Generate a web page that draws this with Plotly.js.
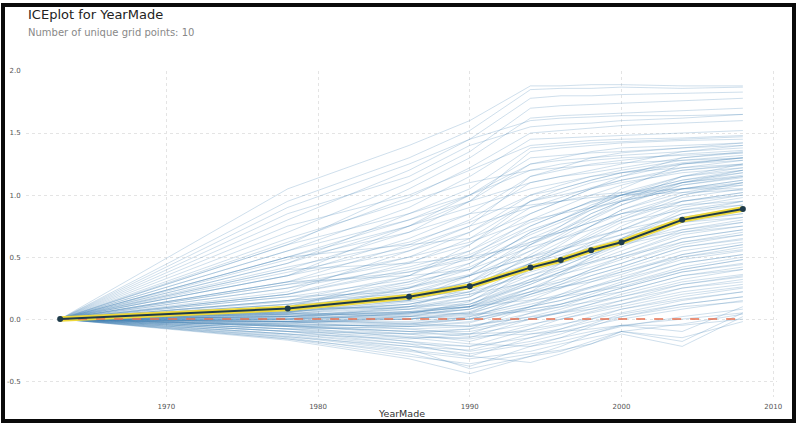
<!DOCTYPE html>
<html>
<head>
<meta charset="utf-8">
<script src="https://cdn.plot.ly/plotly-3.0.1.min.js"></script>
<style>
  html, body { margin:0; padding:0; background:#fff; width:800px; height:424px; overflow:hidden; }
  #chart { position:absolute; left:0; top:0; width:800px; height:424px; }
  #frame { position:absolute; left:1px; top:3px; width:795px; height:420px; border:4px solid #0a0a0a; box-sizing:border-box; pointer-events:none; }
</style>
</head>
<body>
<div id="chart"></div>
<div id="frame"></div>
<script>
// Grid points of YearMade
const gridYears = [1963, 1978, 1986, 1990, 1994, 1996, 1998, 2000, 2004, 2008];

// Average (PDP) curve
const meanEffect = [0.0, 0.085, 0.18, 0.265, 0.415, 0.476, 0.556, 0.62, 0.80, 0.887];

// Individual conditional expectation curves
const iceCurves = [
  [0, 1.05, 1.40, 1.60, 1.88, 1.88, 1.89, 1.89, 1.88, 1.88],
  [0, 0.95, 1.30, 1.52, 1.85, 1.86, 1.86, 1.87, 1.86, 1.87],
  [0, 0.80, 1.20, 1.45, 1.78, 1.80, 1.80, 1.81, 1.82, 1.83],
  [0, 0.70, 1.10, 1.35, 1.70, 1.72, 1.73, 1.74, 1.76, 1.78],
  [0, 0.60, 1.05, 1.30, 1.62, 1.64, 1.65, 1.66, 1.68, 1.70],
  [0, 0.85, 1.15, 1.40, 1.55, 1.57, 1.58, 1.60, 1.62, 1.65],
  [0, 0.55, 0.90, 1.15, 1.45, 1.46, 1.47, 1.48, 1.50, 1.52],
  [0, 0.45, 0.85, 1.05, 1.38, 1.40, 1.42, 1.43, 1.45, 1.47],
  [0, 0.50, 0.80, 1.00, 1.30, 1.32, 1.34, 1.35, 1.38, 1.42],
  [0, 0.40, 0.70, 0.95, 1.25, 1.28, 1.30, 1.32, 1.35, 1.38],
  [0, 0.35, 0.65, 0.85, 1.15, 1.20, 1.25, 1.28, 1.33, 1.36],
  [0, 0.30, 0.60, 0.80, 1.10, 1.15, 1.18, 1.22, 1.30, 1.34],
  [0, 0.65, 0.95, 1.10, 1.20, 1.22, 1.24, 1.26, 1.28, 1.30],
  [0, 0.25, 0.50, 0.70, 1.00, 1.08, 1.15, 1.20, 1.28, 1.32],
  [0, 0.20, 0.45, 0.65, 0.95, 1.02, 1.10, 1.15, 1.25, 1.30],
  [0, 0.15, 0.35, 0.55, 0.85, 0.95, 1.05, 1.12, 1.22, 1.28],
  [0, 0.10, 0.30, 0.50, 0.80, 0.90, 1.00, 1.08, 1.20, 1.25],
  [0, 0.20, 0.40, 0.52, 0.75, 0.85, 0.95, 1.02, 1.15, 1.22],
  [0, 0.08, 0.25, 0.40, 0.70, 0.80, 0.92, 1.00, 1.12, 1.20],
  [0, 0.12, 0.28, 0.42, 0.65, 0.75, 0.88, 0.98, 1.10, 1.18],
  [0, 0.05, 0.18, 0.30, 0.55, 0.68, 0.82, 0.95, 1.08, 1.15],
  [0, 0.30, 0.50, 0.62, 0.80, 0.85, 0.90, 0.95, 1.05, 1.12],
  [0, 0.06, 0.15, 0.25, 0.50, 0.62, 0.75, 0.88, 1.02, 1.10],
  [0, 0.10, 0.22, 0.35, 0.55, 0.65, 0.75, 0.85, 1.00, 1.08],
  [0, 0.04, 0.12, 0.22, 0.45, 0.55, 0.68, 0.80, 0.98, 1.05],
  [0, 0.15, 0.30, 0.40, 0.58, 0.65, 0.72, 0.80, 0.95, 1.02],
  [0, 0.02, 0.10, 0.18, 0.40, 0.50, 0.62, 0.72, 0.92, 1.00],
  [0, 0.08, 0.20, 0.30, 0.48, 0.55, 0.65, 0.72, 0.90, 0.98],
  [0, 0.03, 0.08, 0.15, 0.35, 0.45, 0.55, 0.65, 0.88, 0.95],
  [0, 0.12, 0.25, 0.35, 0.50, 0.56, 0.62, 0.68, 0.85, 0.92],
  [0, 0.00, 0.05, 0.12, 0.32, 0.42, 0.52, 0.62, 0.82, 0.90],
  [0, 0.05, 0.15, 0.25, 0.42, 0.50, 0.58, 0.65, 0.80, 0.88],
  [0, -0.02, 0.02, 0.10, 0.28, 0.38, 0.48, 0.58, 0.78, 0.85],
  [0, 0.06, 0.12, 0.20, 0.38, 0.45, 0.52, 0.60, 0.75, 0.82],
  [0, 0.02, 0.06, 0.12, 0.30, 0.38, 0.46, 0.55, 0.72, 0.80],
  [0, -0.03, 0.00, 0.05, 0.25, 0.35, 0.45, 0.52, 0.70, 0.78],
  [0, 0.04, 0.10, 0.15, 0.32, 0.40, 0.46, 0.52, 0.68, 0.75],
  [0, 0.00, 0.03, 0.08, 0.22, 0.30, 0.40, 0.48, 0.65, 0.72],
  [0, -0.05, -0.05, 0.00, 0.20, 0.28, 0.38, 0.45, 0.62, 0.70],
  [0, 0.02, 0.05, 0.10, 0.25, 0.32, 0.38, 0.45, 0.60, 0.68],
  [0, -0.02, -0.02, 0.02, 0.15, 0.25, 0.35, 0.42, 0.58, 0.65],
  [0, 0.00, 0.02, 0.05, 0.18, 0.25, 0.32, 0.40, 0.55, 0.62],
  [0, -0.06, -0.10, -0.08, 0.10, 0.20, 0.30, 0.38, 0.52, 0.60],
  [0, 0.01, 0.04, 0.08, 0.20, 0.26, 0.32, 0.38, 0.50, 0.58],
  [0, -0.04, -0.06, -0.03, 0.10, 0.18, 0.26, 0.34, 0.48, 0.55],
  [0, -0.01, 0.00, 0.03, 0.14, 0.20, 0.26, 0.32, 0.45, 0.52],
  [0, -0.08, -0.12, -0.12, 0.05, 0.12, 0.20, 0.28, 0.42, 0.50],
  [0, -0.03, -0.04, 0.00, 0.10, 0.15, 0.22, 0.28, 0.40, 0.48],
  [0, -0.05, -0.08, -0.06, 0.05, 0.10, 0.18, 0.25, 0.38, 0.45],
  [0, -0.02, -0.03, 0.00, 0.08, 0.12, 0.18, 0.22, 0.35, 0.42],
  [0, -0.10, -0.15, -0.15, 0.00, 0.05, 0.12, 0.20, 0.32, 0.40],
  [0, -0.06, -0.10, -0.10, 0.00, 0.05, 0.10, 0.15, 0.28, 0.35],
  [0, -0.12, -0.20, -0.22, -0.08, 0.00, 0.06, 0.12, 0.25, 0.32],
  [0, -0.04, -0.06, -0.05, 0.02, 0.05, 0.08, 0.12, 0.22, 0.28],
  [0, -0.14, -0.25, -0.30, -0.15, -0.08, 0.00, 0.08, 0.18, 0.25],
  [0, -0.08, -0.14, -0.16, -0.08, -0.04, 0.00, 0.05, 0.15, 0.22],
  [0, -0.15, -0.28, -0.38, -0.22, -0.15, -0.06, 0.02, 0.12, 0.18],
  [0, -0.10, -0.18, -0.22, -0.15, -0.10, -0.05, 0.00, 0.08, 0.15],
  [0, -0.17, -0.32, -0.44, -0.30, -0.22, -0.12, -0.05, -0.10, 0.10],
  [0, -0.12, -0.22, -0.28, -0.20, -0.15, -0.10, -0.05, 0.00, 0.05],
  [0, -0.16, -0.30, -0.36, -0.28, -0.25, -0.20, -0.12, -0.22, 0.02],
  [0, -0.05, -0.10, -0.14, -0.12, -0.10, -0.08, -0.05, -0.05, 0.00],
  [0, 0.45, 0.75, 0.90, 1.05, 1.10, 1.15, 1.18, 1.22, 1.25],
  [0, 0.35, 0.55, 0.70, 0.95, 1.00, 1.05, 1.10, 1.18, 1.22],
  [0, 0.25, 0.42, 0.55, 0.78, 0.86, 0.94, 1.00, 1.12, 1.18],
  [0, 0.18, 0.32, 0.45, 0.68, 0.78, 0.88, 0.96, 1.10, 1.16],
  [0, 0.75, 1.00, 1.20, 1.40, 1.42, 1.44, 1.45, 1.46, 1.48],
  [0, 0.55, 0.80, 0.95, 1.10, 1.15, 1.20, 1.25, 1.35, 1.40],
  [0, 0.08, 0.18, 0.30, 0.60, 0.72, 0.85, 0.95, 1.15, 1.25],
  [0, 0.02, 0.08, 0.18, 0.45, 0.60, 0.75, 0.88, 1.05, 1.12],
  [0, 0.30, 0.35, 0.40, 0.70, 0.80, 0.90, 1.00, 1.10, 1.15],
  [0, 0.40, 0.45, 0.50, 0.60, 0.70, 0.85, 0.95, 1.05, 1.10],
  [0, 0.22, 0.55, 0.75, 0.90, 0.95, 1.00, 1.02, 1.05, 1.08],
  [0, 0.50, 0.60, 0.65, 0.85, 0.95, 1.05, 1.15, 1.30, 1.35],
  [0, 0.15, 0.20, 0.25, 0.60, 0.75, 0.90, 1.05, 1.25, 1.30],
  [0, 0.05, 0.25, 0.45, 0.75, 0.85, 0.95, 1.00, 1.05, 1.05],
  [0, 0.10, 0.15, 0.35, 0.65, 0.70, 0.78, 0.85, 0.95, 1.00],
  [0, 0.28, 0.38, 0.48, 0.62, 0.70, 0.78, 0.85, 0.92, 0.95],
  [0, 0.18, 0.22, 0.28, 0.45, 0.55, 0.66, 0.78, 0.88, 0.92],
  [0, 0.06, 0.20, 0.35, 0.50, 0.58, 0.66, 0.72, 0.82, 0.88],
  [0, 0.00, 0.10, 0.25, 0.45, 0.52, 0.60, 0.68, 0.80, 0.85],
  [0, 0.12, 0.18, 0.22, 0.35, 0.42, 0.52, 0.62, 0.78, 0.82],
  [0, 0.03, 0.05, 0.10, 0.40, 0.48, 0.55, 0.62, 0.72, 0.78],
  [0, 0.08, 0.10, 0.12, 0.28, 0.38, 0.50, 0.60, 0.70, 0.75],
  [0, 0.04, 0.14, 0.20, 0.30, 0.36, 0.42, 0.50, 0.65, 0.72],
  [0, -0.04, 0.02, 0.08, 0.25, 0.30, 0.40, 0.50, 0.62, 0.68],
  [0, 0.02, 0.00, 0.04, 0.20, 0.28, 0.35, 0.42, 0.58, 0.64],
  [0, 0.10, 0.08, 0.10, 0.22, 0.26, 0.30, 0.36, 0.52, 0.60],
  [0, -0.06, -0.04, 0.02, 0.12, 0.18, 0.25, 0.32, 0.50, 0.56],
  [0, 0.05, 0.02, 0.00, 0.10, 0.15, 0.22, 0.30, 0.45, 0.52],
  [0, -0.02, 0.05, 0.10, 0.15, 0.18, 0.22, 0.26, 0.40, 0.48],
  [0, -0.08, -0.06, -0.02, 0.08, 0.12, 0.18, 0.25, 0.38, 0.44],
  [0, 0.00, -0.04, -0.06, 0.02, 0.08, 0.15, 0.22, 0.35, 0.40],
  [0, -0.10, -0.12, -0.08, 0.00, 0.06, 0.12, 0.18, 0.30, 0.36],
  [0, 0.04, 0.06, 0.04, 0.06, 0.10, 0.14, 0.18, 0.28, 0.34],
  [0, -0.05, -0.12, -0.18, -0.05, 0.02, 0.08, 0.15, 0.25, 0.30],
  [0, -0.12, -0.16, -0.12, -0.04, 0.00, 0.05, 0.10, 0.20, 0.26],
  [0, -0.02, -0.08, -0.12, -0.10, -0.05, 0.02, 0.08, 0.16, 0.22],
  [0, -0.08, -0.18, -0.26, -0.18, -0.12, -0.04, 0.04, 0.12, 0.18],
  [0, -0.14, -0.22, -0.25, -0.12, -0.08, -0.02, 0.02, 0.10, 0.14],
  [0, -0.06, -0.15, -0.20, -0.22, -0.18, -0.12, -0.06, 0.02, 0.08],
  [0, -0.16, -0.26, -0.32, -0.26, -0.20, -0.15, -0.10, -0.04, 0.04],
  [0, -0.10, -0.20, -0.30, -0.35, -0.28, -0.20, -0.10, -0.15, -0.02],
  [0, -0.13, -0.24, -0.40, -0.30, -0.26, -0.18, -0.10, -0.18, 0.05],
  [0, 0.60, 0.85, 1.00, 1.25, 1.30, 1.35, 1.38, 1.40, 1.42],
  [0, 0.35, 0.75, 1.00, 1.20, 1.25, 1.28, 1.30, 1.32, 1.34],
  [0, 0.42, 0.62, 0.78, 1.00, 1.05, 1.12, 1.18, 1.25, 1.28],
  [0, 0.28, 0.46, 0.60, 0.90, 0.98, 1.06, 1.12, 1.20, 1.24],
  [0, 0.20, 0.38, 0.50, 0.72, 0.80, 0.90, 1.00, 1.15, 1.20],
  [0, 0.14, 0.26, 0.36, 0.62, 0.72, 0.82, 0.92, 1.08, 1.14],
  [0, 0.48, 0.70, 0.85, 0.92, 0.95, 0.98, 1.00, 1.02, 1.04],
  [0, 0.90, 1.25, 1.45, 1.60, 1.62, 1.63, 1.64, 1.64, 1.65],
  [0, 0.62, 0.98, 1.22, 1.50, 1.52, 1.54, 1.56, 1.58, 1.60],
  [0, 0.50, 0.75, 0.95, 1.35, 1.38, 1.40, 1.42, 1.44, 1.45],
  [0, 0.38, 0.58, 0.75, 1.15, 1.22, 1.30, 1.34, 1.38, 1.40],
  [0, 0.10, 0.35, 0.60, 0.95, 1.05, 1.12, 1.18, 1.26, 1.30],
  [0, 0.06, 0.12, 0.22, 0.52, 0.66, 0.80, 0.92, 1.10, 1.20],
  [0, 0.00, 0.04, 0.14, 0.42, 0.56, 0.70, 0.82, 1.00, 1.10],
  [0, 0.02, 0.06, 0.10, 0.30, 0.45, 0.60, 0.75, 0.95, 1.02],
  [0, -0.02, 0.00, 0.06, 0.22, 0.36, 0.50, 0.65, 0.85, 0.95]
];

const zeroLine = gridYears.map(() => 0);

const traces = [];
iceCurves.forEach(vals => {
  traces.push({
    x: gridYears, y: vals, type: 'scatter', mode: 'lines',
    line: {color: 'rgba(70,130,180,0.26)', width: 1},
    hoverinfo: 'skip', showlegend: false
  });
});
traces.push({
  x: gridYears, y: meanEffect, type: 'scatter', mode: 'lines',
  line: {color: '#EED83A', width: 5.5}, hoverinfo: 'skip', showlegend: false
});
traces.push({
  x: gridYears, y: zeroLine, type: 'scatter', mode: 'lines',
  line: {color: '#E8704F', width: 1.5, dash: 'dash'}, hoverinfo: 'skip', showlegend: false
});
traces.push({
  x: gridYears, y: meanEffect, type: 'scatter', mode: 'lines+markers',
  line: {color: '#1E3B4A', width: 2},
  marker: {color: '#1E3B4A', size: 6},
  hoverinfo: 'skip', showlegend: false
});

const font = 'DejaVu Sans, Liberation Sans, sans-serif';
const layout = {
  width: 800, height: 424,
  margin: {l: 26, r: 23, t: 71, b: 27, pad: 0},
  paper_bgcolor: '#fff', plot_bgcolor: '#fff',
  showlegend: false,
  xaxis: {
    range: [1960.75, 2010.25], tickvals: [1970, 1980, 1990, 2000, 2010],
    ticktext: ['1970', '1980', '1990', '2000', '2010'],
    showgrid: true, gridcolor: '#e4e4e4', griddash: 'dot', gridwidth: 1,
    zeroline: false, showline: false,
    ticks: 'outside', ticklen: 3, tickcolor: 'rgba(0,0,0,0)',
    tickfont: {family: font, size: 7, color: '#555'}
  },
  yaxis: {
    range: [-0.628, 2.0], tickvals: [-0.5, 0, 0.5, 1.0, 1.5, 2.0],
    ticktext: ['-0.5', '0.0', '0.5', '1.0', '1.5', '2.0'],
    showgrid: true, gridcolor: '#e4e4e4', griddash: 'dot', gridwidth: 1,
    zeroline: false, showline: false,
    ticks: 'outside', ticklen: 3, tickcolor: 'rgba(0,0,0,0)',
    tickfont: {family: font, size: 7, color: '#555'}
  },
  annotations: [
    {text: 'ICEplot for YearMade', xref: 'paper', yref: 'paper', x: 0, y: 1.174,
     xanchor: 'left', yanchor: 'middle', showarrow: false,
     font: {family: font, size: 13, color: '#222'}},
    {text: 'Number of unique grid points: 10', xref: 'paper', yref: 'paper', x: 0, y: 1.1196,
     xanchor: 'left', yanchor: 'middle', showarrow: false,
     font: {family: font, size: 10, color: '#888'}},
    {text: 'YearMade', xref: 'paper', yref: 'paper', x: 0.5, y: -0.052,
     xanchor: 'center', yanchor: 'middle', showarrow: false,
     font: {family: font, size: 9.5, color: '#333'}}
  ]
};

Plotly.newPlot('chart', traces, layout, {staticPlot: true, displayModeBar: false});
</script>
</body>
</html>
